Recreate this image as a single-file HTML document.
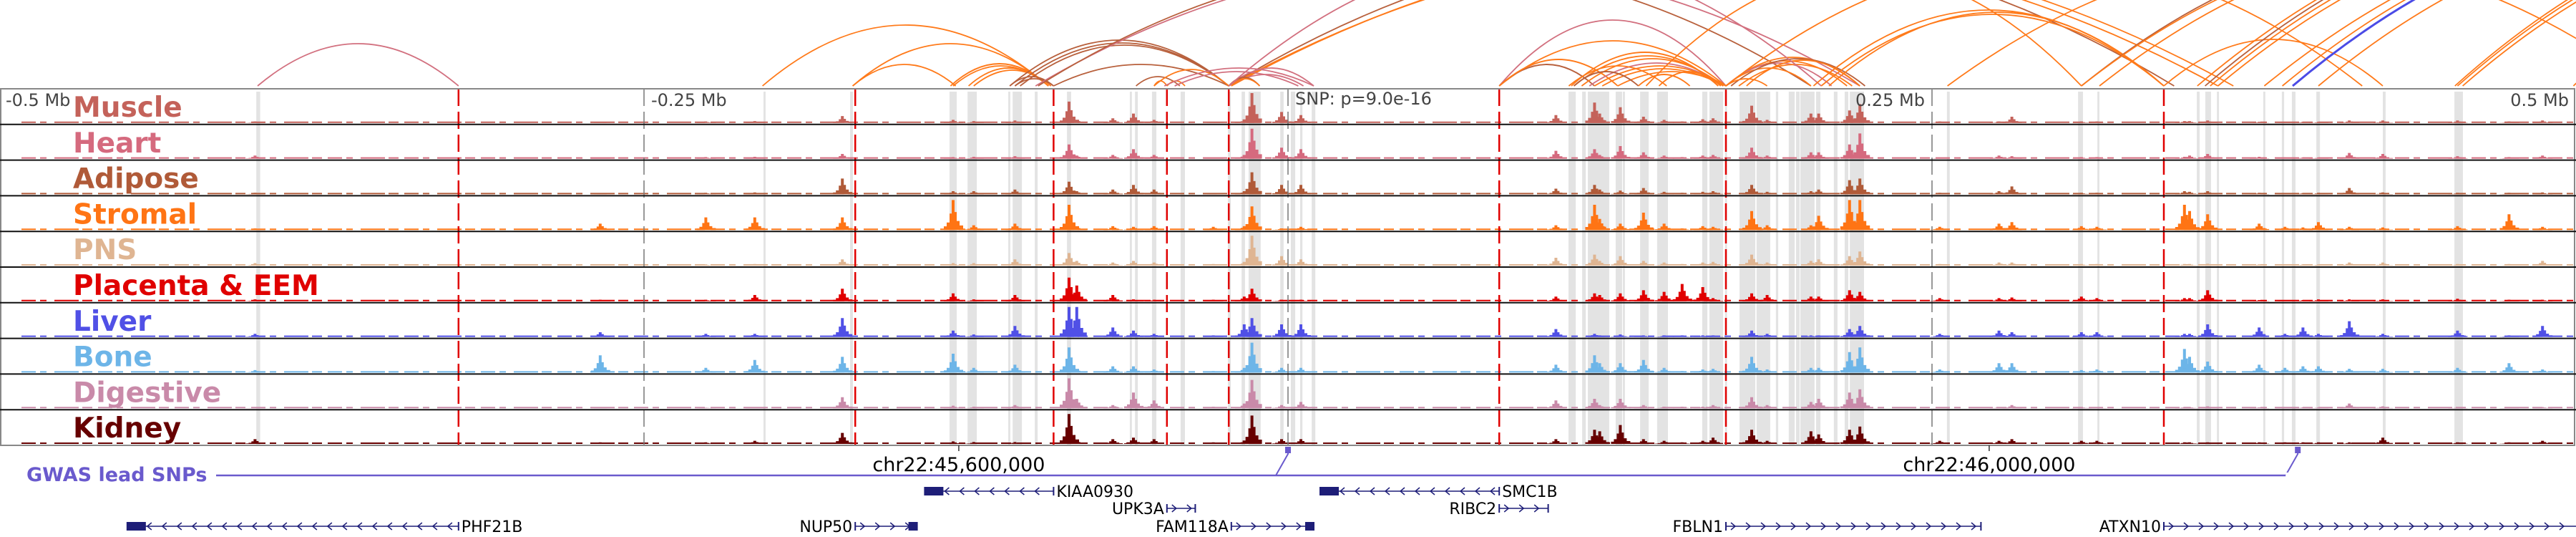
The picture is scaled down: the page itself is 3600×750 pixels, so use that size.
<!DOCTYPE html>
<html><head><meta charset="utf-8">
<style>
html,body{margin:0;padding:0;background:#fff;}
svg{display:block;font-family:"DejaVu Sans","Liberation Sans",sans-serif;}
</style></head>
<body>
<svg id="chart" width="3600" height="750" viewBox="0 0 3600 750" xmlns="http://www.w3.org/2000/svg">
  <g id="arcs"></g>
  <g id="bands"></g>
  <g id="tracks"></g>
  <g id="vlines"></g>
  <g id="frame"></g>
  <g id="labels"></g>
  <g id="axis"></g>
  <g id="gwas"></g>
  <g id="genes"></g>
</svg>
<script>
// ---- data (positions in kb relative to lead SNP) ----
const tissues = ["Muscle","Heart","Adipose","Stromal","PNS","Placenta & EEM","Liver","Bone","Digestive","Kidney"];
const tissueColors = ["#c4625a","#d56a7e","#b05a38","#ff7414","#dfb592","#e00000","#5050e6","#6db5e8","#c98aa9","#670000"];
const peakPos = [-401,-267,-226,-207,-173,-130,-122,-106,-85,-82,-68,-60,-52,-29,-17,-14,-2.5,5,
  104,119,121,129,138,146,153,161,165,180,186,203,206,218,222,
  253,276,281,308,314,348,350,357,377,387,394,400,412,425,454,474,487];
const muscleVals   = [.05,.03,.05,.06,.22,.1,.06,.08,.68,.1,.15,.3,.1,.02,.1,.95,.35,.25, .25,.65,.3,.5,.2,.1,.05,.12,.15,.55,.1,.3,.3,.4,.6, .05,.05,.2,.05,.05,.06,.06,.08,.04,.04,.04,.04,.08,.08,.08,.05,.08];
const heartVals    = [.1,.03,.05,.06,.15,.05,.06,.08,.45,.1,.12,.3,.12,.02,.12,.95,.35,.3, .25,.3,.12,.4,.2,.1,.05,.1,.12,.35,.1,.2,.2,.45,.8, .03,.1,.08,.05,.05,.06,.1,.15,.06,.04,.04,.04,.18,.15,.08,.05,.1];
const adiposeVals  = [.05,.03,.05,.06,.5,.1,.1,.15,.4,.1,.15,.3,.15,.02,.1,.7,.3,.3, .18,.3,.15,.12,.2,.08,.05,.08,.1,.3,.08,.1,.15,.45,.5, .05,.1,.25,.05,.05,.1,.08,.1,.05,.04,.04,.05,.2,.06,.05,.05,.06];
const stromalVals  = [.05,.2,.4,.4,.4,.95,.15,.2,.8,.1,.12,.1,.12,.1,.12,.75,.05,.1, .15,.8,.35,.2,.55,.2,.05,.12,.1,.6,.15,.15,.45,.95,.95, .1,.2,.25,.12,.1,.8,.6,.5,.2,.1,.08,.25,.1,.08,.12,.5,.1];
const pnsVals      = [.08,.04,.04,.05,.2,.08,.08,.2,.4,.15,.1,.15,.1,.05,.12,.95,.3,.2, .25,.35,.15,.3,.15,.1,.05,.1,.12,.35,.1,.15,.2,.3,.45, .05,.1,.1,.05,.05,.05,.05,.06,.04,.04,.04,.04,.1,.1,.05,.05,.15];
const placentaVals = [.06,.05,.05,.2,.4,.25,.06,.2,.75,.5,.2,.06,.05,.05,.15,.4,.05,.05, .15,.25,.2,.25,.35,.3,.55,.45,.1,.25,.2,.15,.15,.35,.3, .1,.1,.12,.15,.1,.1,.1,.35,.04,.04,.04,.06,.06,.06,.08,.05,.05];
const liverVals    = [.1,.15,.1,.1,.6,.2,.08,.35,.95,.95,.3,.2,.1,.05,.4,.6,.4,.4, .25,.1,.05,.08,.05,.05,.05,.05,.05,.2,.1,.05,.05,.25,.35, .1,.2,.15,.15,.15,.1,.1,.4,.3,.1,.3,.1,.5,.1,.2,.05,.35];
const boneVals     = [.08,.55,.15,.4,.5,.6,.15,.25,.8,.1,.2,.2,.1,.05,.15,.95,.15,.15, .25,.55,.3,.3,.4,.15,.05,.1,.12,.5,.1,.15,.15,.65,.8, .1,.3,.3,.08,.1,.75,.5,.35,.25,.15,.2,.2,.12,.12,.15,.3,.1];
const digestiveVals= [.03,.02,.02,.03,.35,.08,.05,.1,.95,.3,.1,.5,.25,.05,.15,.9,.1,.2, .25,.3,.1,.3,.1,.05,.05,.05,.1,.35,.1,.2,.3,.5,.6, .03,.04,.1,.04,.04,.04,.04,.06,.03,.03,.03,.03,.15,.06,.03,.03,.04];
const kidneyVals   = [.15,.05,.05,.1,.35,.08,.06,.06,.95,.1,.15,.2,.15,.05,.1,.9,.15,.15, .15,.45,.4,.6,.15,.1,.05,.1,.2,.45,.1,.4,.3,.45,.55, .1,.1,.15,.1,.1,.05,.05,.05,.05,.05,.05,.05,.05,.2,.05,.05,.1];
const bands = [[-400.5,-399],[-203.6,-202.8],[-170,-168.9],[-131.4,-128.6],[-124.4,-120.8],[-108.6,-107.8],[-106.9,-103.3],[-98.3,-97.2],[-85.8,-84.2],[-61.4,-60.6],[-59.4,-58.3],[-52.8,-51.1],[-41.7,-40],[-23.3,-22.2],[-18,-16.7],[-15.3,-10.6],[-3,-1.7],[1.1,2.8],[4.7,5.6],[9.2,10.6],
 [108.9,111.7],[114.2,115.6],[116.4,124.7],[127.2,129.7],[130,130.8],[136.7,140],[143.3,147.5],[160.8,162.8],[163.6,168.9],[169.7,170.3],[175.3,181.4],[181.9,187.2],[189.4,190.3],[194.4,196.7],[197.2,198.6],[198.9,204.4],[205,206.7],[211.9,213.3],[216.1,217.5],[218.1,223.6],
 [255.8,256.9],[306.7,308.6],[314.2,315],[352.8,353.9],[356.1,358.3],[360.6,361.4],[378.6,379.4],[385.8,386.7],[389.7,391.1],[399.2,400.6],[425,426.1],[452.8,456.1]];
const anchorLines = [-322,-168,-91,-47,-23,82,170,340];
const axisTicks = [-250,0,250];
const axisLabels = ["-0.5 Mb","-0.25 Mb","0.25 Mb","0.5 Mb"];
const arcColors = ["#ff7a1a","#b8603c","#d2707f","#4b4be6"];
// [anchorA kb, anchorB kb, apex, colour index]
const arcs = [
 [-400,-322,59,2],[-204,-93,85,0],[-169,-93,59,0],[-169,-129,30,0],[-131,-93,31,0],[-130,-93,28,0],[-124,-93,25,0],[-122,-92,22,0],
 [-108,-91,13,1],[-106,-91,10,1],[-108,-23,64,1],[-106,-23,60,1],[-104,-23,57,1],[-91,-23,30,1],
 [-98,222,170,2],[-97,203,170,1],[-23,344,200,1],[-23,361,190,0],[-22,367,195,0],
 [-59,-42,13,1],[-52,-23,23,0],[-52,-47,7,0],[-47,-40,7,0],[-48,10,25,2],[-44,4,20,2],[-23,10,25,2],[-23,6,16,2],[-23,-11,12,1],[-22,-11,10,0],
 [82,170,92,2],[82,170,63,0],[82,119,30,1],[82,128,37,0],
 [110,167,47,0],[111,168,42,0],[114,169,38,0],[117,169,32,2],[119,170,28,0],[122,169,24,0],[128,170,20,0],[136,156,16,0],[144,167,20,0],[109,147,28,0],[111,136,20,1],
 [170,222,40,0],[170,217,35,0],[170,211,32,2],[170,203,25,0],[172,224,38,1],[175,219,30,0],[178,222,36,0],[170,186,10,0],
 [170,417,175,0],[-23,207,180,2],[204,340,106,0],[210,340,103,0],[207,340,100,0],
 [256,528,180,0],[139,308,160,0],[308,583,200,1],[308,583,195,0],[315,597,200,0],[340,425,65,0],
 [353,667,240,0],[356,667,240,1],[358,667,235,0],[361,667,230,0],[379,694,230,0],[386,694,230,0],[390,694,230,3],[400,694,220,0],
 [453,750,240,0],[454,750,235,0],[456,750,230,0],[499,750,220,0]];
const geneNames = ["PHF21B","NUP50","KIAA0930","UPK3A","FAM118A","SMC1B","RIBC2","FBLN1","ATXN10"];
const geneStart = [-450.6,-168,-141,-47,-22,12.5,82,170,340];
const geneEnd   = [-322,-144,-91,-36,10,82,101,269,500];
const geneRow   = [2,2,0,1,2,0,1,2,2];
const geneStrand= [-1,1,-1,1,1,-1,1,1,1];
const geneLabelSide = [1,-1,1,-1,-1,1,-1,-1,-1];
const snpPos = [0,392];
const chrTicks = [-127.8,272.2];
const chrTickLabels = ["chr22:45,600,000","chr22:46,000,000"];

// ---- scales ----
const X = kb => 1800 + kb*3.6;
const TOP = 124, TH = 49.8, NT = 10;
const trackTop = i => TOP + i*TH;
const H = v => v*44;
const NS = "http://www.w3.org/2000/svg";
function mk(parent, tag, attrs){ const el=document.createElementNS(NS,tag); for(const k in attrs) el.setAttribute(k,attrs[k]); parent.appendChild(el); return el; }
const allVals = [muscleVals,heartVals,adiposeVals,stromalVals,pnsVals,placentaVals,liverVals,boneVals,digestiveVals,kidneyVals];

// arcs
const gA = document.getElementById('arcs');
const clip = mk(gA,'clipPath',{id:'arcclip'}); mk(clip,'rect',{x:0,y:0,width:3600,height:121});
arcs.forEach(a=>{
  const x1=X(a[0]), x2=X(a[1]), h=a[2];
  const el = mk(gA,'path',{d:`M${x1},120 Q${(x1+x2)/2},${120-2*h} ${x2},120`,fill:'none',stroke:arcColors[a[3]],'stroke-width':a[3]===3?3:1.8,'clip-path':'url(#arcclip)'});
  
  
});

// bands
const gB = document.getElementById('bands');
bands.forEach(b=>{
  const el = mk(gB,'rect',{x:X(b[0]),y:TOP+4,width:Math.max(2.5,X(b[1])-X(b[0])),height:TH*NT-4,fill:'#e3e3e3'});
  
  
});

// tracks
const gT = document.getElementById('tracks');
tissues.forEach((t,i)=>{
  const base = trackTop(i)+TH-2, col = tissueColors[i], vals = allVals[i];
  const g = mk(gT,'g',{});
  
  
  mk(g,'line',{x1:30,y1:base-1,x2:3600,y2:base-1,stroke:col,'stroke-width':2,'stroke-dasharray':'20 6 9 11 34 5 14 8'});
  peakPos.forEach((p,j)=>{
    const v = vals[j]; if(!v) return;
    const x = X(p), h = H(v);
    const d = `M${x-13},${base} V${base-h*0.12} H${x-9} V${base-h*0.25} H${x-5} V${base-h*0.55} H${x-2} V${base-h} H${x+2} V${base-h*0.6} H${x+5} V${base-h*0.3} H${x+9} V${base-h*0.15} H${x+14} V${base} Z`;
    const el = mk(g,'path',{d:d,fill:col});
    
    
  });
});

// vertical marker lines
const gV = document.getElementById('vlines');
anchorLines.forEach(a=>{
  const el = mk(gV,'line',{x1:X(a),y1:TOP,x2:X(a),y2:TOP+TH*NT,stroke:'#e00000','stroke-width':2.5,'stroke-dasharray':'24 8'});
  
  
});
axisTicks.forEach(a=>{
  const el = mk(gV,'line',{x1:X(a),y1:TOP,x2:X(a),y2:TOP+TH*NT,stroke:'#777','stroke-width':1.5,'stroke-dasharray':'24 8'});
  
  
});

// frame
const gF = document.getElementById('frame');
const fr = mk(gF,'rect',{x:1,y:TOP,width:3597,height:TH*NT,fill:'none',stroke:'#888','stroke-width':2});


for(let i=1;i<NT;i++){
  const el = mk(gF,'line',{x1:0,y1:trackTop(i),x2:3600,y2:trackTop(i),stroke:'#111','stroke-width':2});
  
  
}

// labels
const gL = document.getElementById('labels');
tissues.forEach((t,i)=>{
  const el = mk(gL,'text',{x:102,y:trackTop(i)+39,fill:tissueColors[i],'font-size':39,'font-weight':'bold'});
  el.textContent = t;
  
  
});

// axis text
const gX = document.getElementById('axis');
const axPos = [[8,'start'],[X(-250)+10,'start'],[X(250)-10,'end'],[3590,'end']];
axisLabels.forEach((l,i)=>{
  const el = mk(gX,'text',{x:axPos[i][0],y:148,fill:'#444','font-size':24,'text-anchor':axPos[i][1]});
  el.textContent = l;
  
  
});
const snpT = mk(gX,'text',{x:X(0)+10,y:146,fill:'#444','font-size':24});
snpT.textContent = "SNP: p=9.0e-16";


chrTicks.forEach((c,i)=>{
  const tk = mk(gX,'line',{x1:X(c),y1:622,x2:X(c),y2:630,stroke:'#333','stroke-width':1.5});
  
  
  const el = mk(gX,'text',{x:X(c),y:658,fill:'#000','font-size':27,'text-anchor':'middle'});
  el.textContent = chrTickLabels[i];
  
  
});

// GWAS
const gG = document.getElementById('gwas');
const gt = mk(gG,'text',{x:37,y:672,fill:'#6a5acd','font-size':27,'font-weight':'bold'});
gt.textContent = "GWAS lead SNPs";


const gl = mk(gG,'line',{x1:302,y1:664,x2:3600,y2:664,stroke:'#6a5acd','stroke-width':2.5});


snpPos.forEach(s=>{
  const x = X(s);
  const c = mk(gG,'path',{d:`M${x-17},664 L${x},634 V626`,fill:'none',stroke:'#6a5acd','stroke-width':2});
  
  
  const r = mk(gG,'rect',{x:x-4,y:624,width:8,height:9,fill:'#6a5acd'});
  
  
});
const cover = mk(gG,'rect',{x:X(snpPos[1])-17,y:660,width:3600,height:8,fill:'#fff'});



// genes
const gN = document.getElementById('genes');
const rowY = [686,710,735];
geneNames.forEach((n,i)=>{
  const x1=X(geneStart[i]), x2=Math.min(3600,X(geneEnd[i])), y=rowY[geneRow[i]], s=geneStrand[i];
  const g = mk(gN,'g',{});
  
  
  mk(g,'line',{x1:x1,y1:y,x2:x2,y2:y,stroke:'#1e1e78','stroke-width':1.5});
  let dpath='';
  for(let x=x1+10;x<x2-6;x+=21){ dpath += s>0 ? `M${x-3},${y-5} L${x+3},${y} L${x-3},${y+5} ` : `M${x+3},${y-5} L${x-3},${y} L${x+3},${y+5} `; }
  mk(g,'path',{d:dpath,fill:'none',stroke:'#1e1e78','stroke-width':1.5});
  mk(g,'line',{x1:x1,y1:y-6,x2:x1,y2:y+6,stroke:'#1e1e78','stroke-width':2});
  if(x2<3599) mk(g,'line',{x1:x2,y1:y-6,x2:x2,y2:y+6,stroke:'#1e1e78','stroke-width':2});
  if(s<0) mk(g,'rect',{x:x1,y:y-6,width:Math.min(26,(x2-x1)*0.15),height:12,fill:'#1e1e78'});
  else if(n!=="ATXN10" && n!=="FBLN1" && n!=="RIBC2" && n!=="UPK3A") mk(g,'rect',{x:x2-12,y:y-6,width:12,height:12,fill:'#1e1e78'});
  const lbl = mk(g,'text',{x: geneLabelSide[i]>0 ? x2+4 : x1-4, y:y+8,'font-size':22,fill:'#000','text-anchor': geneLabelSide[i]>0?'start':'end'});
  lbl.textContent = n;
  
  
});
</script>
</body></html>
